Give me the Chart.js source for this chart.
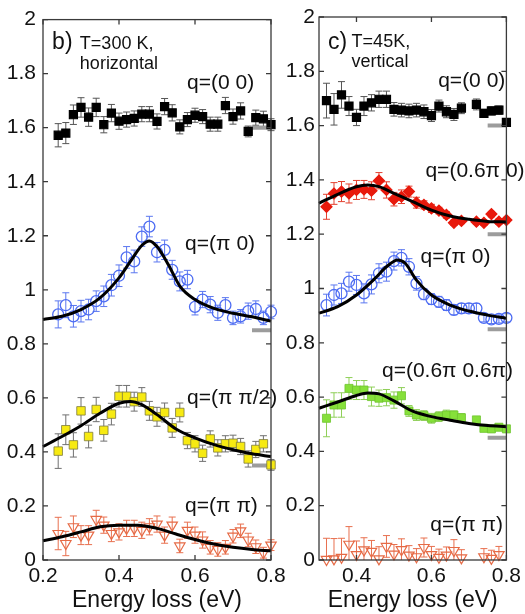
<!DOCTYPE html>
<html>
<head>
<meta charset="utf-8">
<script src="https://cdn.jsdelivr.net/npm/chart.js@4.4.0/dist/chart.umd.min.js"></script>
<style>
  html, body { margin: 0; padding: 0; background: #fff; }
  #wrap { position: relative; width: 525px; height: 614px; overflow: hidden; }
  #wrap canvas { position: absolute; top: 0; }
  #left { left: 0; }
  #right { left: 271px; }
</style>
</head>
<body>
<div id="wrap">
  <canvas id="left" width="300" height="614"></canvas>
  <canvas id="right" width="254" height="614"></canvas>
</div>
<script>
const FONT = "'Liberation Sans', Arial, Helvetica, sans-serif";

// tick values
const yTicks = [0, 0.2, 0.4, 0.6, 0.8, 1, 1.2, 1.4, 1.6, 1.8, 2];
const xTicksB = [0.2, 0.4, 0.6, 0.8];
const xTicksC = [0.4, 0.6, 0.8];

// ---- panel b)  T=300 K, horizontal
const energyB = [0.24, 0.26, 0.28, 0.30, 0.32, 0.34, 0.36, 0.38, 0.40, 0.42, 0.44, 0.46, 0.48, 0.50, 0.52,
  0.54, 0.56, 0.58, 0.60, 0.62, 0.64, 0.66, 0.68, 0.70, 0.72, 0.74, 0.76, 0.78, 0.80];

const bQ00 = [1.572, 1.580, 1.648, 1.675, 1.639, 1.675, 1.611, 1.654, 1.624, 1.630, 1.634, 1.650, 1.650, 1.623, 1.678,
  1.655, 1.603, 1.630, 1.646, 1.641, 1.613, 1.613, 1.682, 1.641, 1.662, 1.586, 1.637, 1.633, 1.611];
const bQ00Err = [0.043, 0.039, 0.036, 0.036, 0.034, 0.034, 0.03, 0.032, 0.03, 0.028, 0.028, 0.028, 0.028, 0.028, 0.03,
  0.03, 0.026, 0.026, 0.026, 0.026, 0.026, 0.026, 0.03, 0.028, 0.03, 0.02, 0.028, 0.028, 0.022];

const bPi0 = [0.909, 0.943, 0.902, 0.921, 0.927, 0.958, 0.976, 1.017, 1.052, 1.120, 1.105, 1.197, 1.234, 1.139, 1.148,
  1.074, 1.031, 1.038, 0.937, 0.964, 0.945, 0.915, 0.943, 0.896, 0.902, 0.921, 0.929, 0.896, 0.918];
const bPi0Err = [0.05, 0.046, 0.04, 0.04, 0.038, 0.038, 0.038, 0.04, 0.04, 0.04, 0.042, 0.036, 0.038, 0.036, 0.036,
  0.035, 0.035, 0.034, 0.03, 0.03, 0.03, 0.028, 0.028, 0.025, 0.025, 0.03, 0.03, 0.025, 0.025];
const bPi0FitX = [0.20, 0.25, 0.30, 0.35, 0.40, 0.43, 0.46, 0.48, 0.50, 0.53, 0.56, 0.60, 0.65, 0.70, 0.75, 0.80];
const bPi0Fit = [0.890, 0.902, 0.927, 0.970, 1.044, 1.105, 1.164, 1.181, 1.160, 1.093, 1.014, 0.964, 0.931, 0.913, 0.900, 0.884];

const bPiHalf = [0.403, 0.482, 0.426, 0.552, 0.457, 0.557, 0.480, 0.540, 0.606, 0.606, 0.586, 0.603, 0.552, 0.530, 0.546,
  0.489, 0.546, 0.442, 0.430, 0.395, 0.448, 0.415, 0.430, 0.432, 0.420, 0.374, 0.409, 0.430, 0.352];
const bPiHalfErr = [0.064, 0.055, 0.045, 0.049, 0.042, 0.045, 0.04, 0.04, 0.04, 0.04, 0.035, 0.035, 0.035, 0.035, 0.035,
  0.035, 0.035, 0.03, 0.03, 0.03, 0.03, 0.03, 0.03, 0.03, 0.03, 0.03, 0.03, 0.03, 0.02];
const bPiHalfFitX = [0.20, 0.25, 0.30, 0.35, 0.40, 0.43, 0.46, 0.50, 0.55, 0.60, 0.65, 0.70, 0.75, 0.80];
const bPiHalfFit = [0.420, 0.457, 0.497, 0.543, 0.580, 0.587, 0.575, 0.538, 0.485, 0.452, 0.427, 0.408, 0.393, 0.383];

const bPiPi = [0.098, 0.061, 0.123, 0.092, 0.092, 0.150, 0.129, 0.098, 0.104, 0.117, 0.117, 0.110, 0.123, 0.133, 0.092,
  0.129, 0.052, 0.110, 0.092, 0.074, 0.047, 0.039, 0.047, 0.088, 0.108, 0.074, 0.049, 0.027, 0.055];
const bPiPiErr = [0.06, 0.045, 0.04, 0.035, 0.035, 0.034, 0.03, 0.03, 0.03, 0.03, 0.03, 0.03, 0.03, 0.03, 0.03,
  0.03, 0.025, 0.03, 0.03, 0.03, 0.025, 0.025, 0.025, 0.025, 0.025, 0.025, 0.025, 0.02, 0.02];
const bPiPiFitX = [0.20, 0.25, 0.30, 0.35, 0.40, 0.45, 0.50, 0.55, 0.60, 0.65, 0.70, 0.75, 0.80];
const bPiPiFit = [0.071, 0.086, 0.104, 0.123, 0.129, 0.129, 0.117, 0.096, 0.076, 0.059, 0.047, 0.039, 0.034];

const bBaselines = [1.6, 0.85, 0.35];

// ---- panel c)  T=45K, vertical
const energyC = [0.32, 0.34, 0.36, 0.38, 0.40, 0.42, 0.44, 0.46, 0.48, 0.50, 0.52, 0.54, 0.56, 0.58, 0.60,
  0.62, 0.64, 0.66, 0.68, 0.72, 0.74, 0.76, 0.78, 0.80];
const energyCAll = [0.32, 0.34, 0.36, 0.38, 0.40, 0.42, 0.44, 0.46, 0.48, 0.50, 0.52, 0.54, 0.56, 0.58, 0.60,
  0.62, 0.64, 0.66, 0.68, 0.70, 0.72, 0.74, 0.76, 0.78, 0.80];
const energyCPiPi = [0.32, 0.34, 0.36, 0.38, 0.40, 0.42, 0.44, 0.46, 0.48, 0.50, 0.52, 0.54, 0.56, 0.58, 0.60,
  0.62, 0.64, 0.66, 0.68, 0.74, 0.76, 0.78];

const cQ00 = [1.692, 1.660, 1.713, 1.672, 1.630, 1.672, 1.684, 1.697, 1.697, 1.660, 1.657, 1.654, 1.657, 1.651, 1.637,
  1.672, 1.651, 1.641, 1.664, 1.678, 1.645, 1.654, 1.657, 1.612];
const cQ00Err = [0.064, 0.058, 0.049, 0.035, 0.03, 0.035, 0.03, 0.03, 0.03, 0.025, 0.025, 0.025, 0.025, 0.025, 0.022,
  0.022, 0.022, 0.022, 0.02, 0.02, 0.015, 0.015, 0.015, 0.012];

const c06Pi0 = [1.301, 1.350, 1.357, 1.350, 1.363, 1.365, 1.360, 1.397, 1.363, 1.329, 1.338, 1.357, 1.316, 1.308, 1.295,
  1.287, 1.271, 1.242, 1.249, 1.246, 1.242, 1.274, 1.246, 1.252];
const c06Pi0Err = [0.046, 0.04, 0.037, 0.035, 0.035, 0.033, 0.033, 0.03, 0.03, 0.025, 0.025, 0.02, 0.02, 0.015, 0.015,
  0.012, 0.012, 0.01, 0.01, 0.01, 0.01, 0.01, 0.01, 0.01];
const c06Pi0FitX = [0.30, 0.35, 0.40, 0.43, 0.46, 0.50, 0.55, 0.60, 0.65, 0.70, 0.75, 0.80];
const c06Pi0Fit = [1.314, 1.347, 1.375, 1.381, 1.375, 1.350, 1.320, 1.289, 1.267, 1.255, 1.247, 1.245];

const cPi0 = [0.939, 0.976, 0.982, 1.025, 1.013, 0.982, 1.015, 1.056, 1.062, 1.101, 1.113, 1.080, 1.019, 0.979, 0.961,
  0.951, 0.939, 0.921, 0.927, 0.927, 0.927, 0.892, 0.886, 0.888, 0.892];
const cPi0Err = [0.04, 0.037, 0.037, 0.035, 0.035, 0.035, 0.035, 0.035, 0.035, 0.033, 0.03, 0.03, 0.025, 0.02, 0.02,
  0.02, 0.02, 0.018, 0.018, 0.018, 0.018, 0.015, 0.015, 0.015, 0.015];
const cPi0FitX = [0.30, 0.35, 0.40, 0.45, 0.48, 0.51, 0.53, 0.56, 0.60, 0.65, 0.70, 0.75, 0.80];
const cPi0Fit = [0.909, 0.933, 0.976, 1.038, 1.080, 1.105, 1.093, 1.031, 0.976, 0.939, 0.917, 0.902, 0.890];

const c0606 = [0.522, 0.571, 0.571, 0.632, 0.626, 0.626, 0.602, 0.596, 0.598, 0.589, 0.605, 0.549, 0.534, 0.532, 0.522,
  0.528, 0.534, 0.534, 0.524, 0.516, 0.485, 0.483, 0.489, 0.483];
const c0606Err = [0.068, 0.045, 0.045, 0.04, 0.035, 0.035, 0.035, 0.03, 0.03, 0.03, 0.03, 0.02, 0.02, 0.018, 0.018,
  0.018, 0.018, 0.015, 0.015, 0.012, 0.012, 0.012, 0.012, 0.012];
const c0606FitX = [0.30, 0.35, 0.40, 0.43, 0.46, 0.50, 0.55, 0.60, 0.65, 0.70, 0.75, 0.80];
const c0606Fit = [0.559, 0.582, 0.606, 0.615, 0.612, 0.586, 0.548, 0.528, 0.515, 0.503, 0.495, 0.491];

const cPiPi = [0.002, 0.004, 0.010, 0.058, 0.020, 0.037, 0.032, 0.004, 0.050, 0.022, 0.038, 0.018, 0.012, 0.046, 0.020,
  0.010, 0.018, 0.035, 0.008, 0.012, 0.006, 0.020];
const cPiPiErr = [0.078, 0.075, 0.07, 0.065, 0.05, 0.045, 0.04, 0.045, 0.04, 0.035, 0.04, 0.035, 0.03, 0.035, 0.03,
  0.03, 0.03, 0.04, 0.03, 0.03, 0.03, 0.03];

const cBaselines = [1.6, 1.2, 0.85, 0.45];
const baselineX = [0.75, 0.80];

// ---- helpers
function pts(xs, ys) {
  return xs.map((x, i) => ({ x, y: ys[i] }));
}

function fmt(v) {
  return String(Number(v.toFixed(1)));
}

function markers(xs, ys, err, style) {
  return Object.assign({
    type: 'scatter',
    data: pts(xs, ys),
    errors: err,
    showLine: false,
    clip: false,
    order: 2,
    pointBorderWidth: 1.2
  }, style);
}

function fitLine(xs, ys) {
  return {
    type: 'line',
    data: pts(xs, ys),
    borderColor: '#000',
    borderWidth: 3,
    pointRadius: 0,
    cubicInterpolationMode: 'monotone',
    fill: false,
    clip: false,
    order: 1
  };
}

function baseBar(y) {
  return {
    type: 'line',
    data: pts(baselineX, [y, y]),
    borderColor: '#9c9c9c',
    borderWidth: 4,
    pointRadius: 0,
    order: 3
  };
}

const black = { pointStyle: 'rect', pointRadius: 5.7, pointBackgroundColor: '#000', pointBorderColor: '#000', errColor: '#555' };
const blue = { pointStyle: 'circle', pointRadius: 5.5, pointBackgroundColor: 'rgba(0,0,0,0)', pointBorderColor: '#4d6cf3', pointBorderWidth: 1.3, errColor: '#5b77f0' };
const yellow = { pointStyle: 'rect', pointRadius: 6, pointBackgroundColor: '#f7ea12', pointBorderColor: '#7c7a40', pointBorderWidth: 0.8, errColor: '#707070' };
const orange = { pointStyle: 'triangle', pointRotation: 180, pointRadius: 6, pointBackgroundColor: 'rgba(0,0,0,0)', pointBorderColor: '#e66a45', errColor: '#e8704f' };
const red = { pointStyle: 'rectRot', pointRadius: 5.5, pointBackgroundColor: '#e8190c', pointBorderColor: '#e8190c', errColor: '#e3402f' };
const green = { pointStyle: 'rect', pointRadius: 5.7, pointBackgroundColor: '#86e03a', pointBorderColor: '#6ec42e', pointBorderWidth: 0.8, errColor: '#8fcf58' };

// error bars drawn under the markers
const errorBars = {
  id: 'errorBars',
  beforeDatasetsDraw(chart) {
    const { ctx, chartArea, scales: { x, y } } = chart;
    ctx.save();
    ctx.beginPath();
    ctx.rect(0, chartArea.top, chart.width, chartArea.bottom - chartArea.top);
    ctx.clip();
    chart.data.datasets.forEach(ds => {
      if (!ds.errors) return;
      ctx.strokeStyle = ds.errColor;
      ctx.lineWidth = 1;
      ds.data.forEach((p, i) => {
        const px = x.getPixelForValue(p.x);
        const top = y.getPixelForValue(p.y + ds.errors[i]);
        const bot = y.getPixelForValue(p.y - ds.errors[i]);
        ctx.beginPath();
        ctx.moveTo(px, top); ctx.lineTo(px, bot);
        ctx.moveTo(px - 3.5, top); ctx.lineTo(px + 3.5, top);
        ctx.moveTo(px - 3.5, bot); ctx.lineTo(px + 3.5, bot);
        ctx.stroke();
      });
    });
    ctx.restore();
  }
};

// box round the plot with inward ticks on all four sides
const frame = {
  id: 'frame',
  afterDatasetsDraw(chart) {
    const { ctx, chartArea: a, scales: { x, y } } = chart;
    ctx.save();
    ctx.strokeStyle = '#3a3a3a';
    ctx.lineWidth = 1.3;
    ctx.strokeRect(a.left, a.top, a.right - a.left, a.bottom - a.top);
    ctx.beginPath();
    x.ticks.forEach(t => {
      const px = x.getPixelForValue(t.value);
      ctx.moveTo(px, a.top); ctx.lineTo(px, a.top + 5);
      ctx.moveTo(px, a.bottom); ctx.lineTo(px, a.bottom - 5);
    });
    y.ticks.forEach(t => {
      const py = y.getPixelForValue(t.value);
      ctx.moveTo(a.left, py); ctx.lineTo(a.left + 5, py);
      ctx.moveTo(a.right, py); ctx.lineTo(a.right - 5, py);
    });
    ctx.stroke();
    ctx.restore();
  }
};

// panel labels, placed in data units
const panelText = {
  id: 'panelText',
  afterDatasetsDraw(chart, args, opts) {
    const { ctx, scales: { x, y } } = chart;
    ctx.save();
    ctx.fillStyle = '#111';
    ctx.textAlign = 'left';
    ctx.textBaseline = 'middle';
    opts.items.forEach(t => {
      ctx.font = t.size + 'px ' + FONT;
      ctx.fillText(t.text, x.getPixelForValue(t.x), y.getPixelForValue(t.y));
    });
    ctx.restore();
  }
};

function makeChart(id, xMin, xTicks, yWidth, yPad, padRight, datasets, texts) {
  return new Chart(document.getElementById(id), {
    type: 'scatter',
    data: { datasets },
    options: {
      responsive: false,
      animation: false,
      events: [],
      layout: { padding: { top: 17, right: padRight, left: 0, bottom: 0 } },
      scales: {
        x: {
          type: 'linear',
          min: xMin,
          max: 0.8,
          afterBuildTicks: s => { s.ticks = xTicks.map(v => ({ value: v })); },
          afterFit: s => { s.height = 54; },
          grid: { display: false, drawTicks: false },
          border: { display: false },
          ticks: { padding: 4, color: '#111', font: { family: FONT, size: 21 }, callback: v => fmt(v) },
          title: { display: true, text: 'Energy loss (eV)', color: '#111', font: { family: FONT, size: 23 }, padding: 0 }
        },
        y: {
          type: 'linear',
          min: 0,
          max: 2,
          afterBuildTicks: s => { s.ticks = yTicks.map(v => ({ value: v })); },
          afterFit: s => { s.width = yWidth; },
          grid: { display: false, drawTicks: false },
          border: { display: false },
          ticks: { padding: yPad, color: '#111', font: { family: FONT, size: 21 }, callback: v => fmt(v) }
        }
      },
      plugins: {
        legend: { display: false },
        tooltip: { enabled: false },
        panelText: { items: texts }
      }
    },
    plugins: [errorBars, frame, panelText]
  });
}

makeChart('left', 0.2, xTicksB, 43, 7, 29, [
  ...bBaselines.map(baseBar),
  fitLine(bPi0FitX, bPi0Fit),
  fitLine(bPiHalfFitX, bPiHalfFit),
  fitLine(bPiPiFitX, bPiPiFit),
  markers(energyB, bQ00, bQ00Err, black),
  markers(energyB, bPi0, bPi0Err, blue),
  markers(energyB, bPiHalf, bPiHalfErr, yellow),
  markers(energyB, bPiPi, bPiPiErr, orange)
], [
  { text: 'b)', x: 0.224, y: 1.915, size: 23 },
  { text: 'T=300 K,', x: 0.297, y: 1.908, size: 18 },
  { text: 'horizontal', x: 0.297, y: 1.834, size: 18 },
  { text: 'q=(0 0)', x: 0.579, y: 1.764, size: 21 },
  { text: 'q=(π 0)', x: 0.574, y: 1.168, size: 21 },
  { text: 'q=(π π/2)', x: 0.579, y: 0.597, size: 21 },
  { text: 'q=(π π)', x: 0.574, y: 0.199, size: 21 }
]);

makeChart('right', 0.3, xTicksC, 48, 4, 17, [
  ...cBaselines.map(baseBar),
  fitLine(c06Pi0FitX, c06Pi0Fit),
  fitLine(cPi0FitX, cPi0Fit),
  fitLine(c0606FitX, c0606Fit),
  markers(energyC, cQ00, cQ00Err, black),
  markers(energyC, c06Pi0, c06Pi0Err, red),
  markers(energyCAll, cPi0, cPi0Err, blue),
  markers(energyC, c0606, c0606Err, green),
  markers(energyCPiPi, cPiPi, cPiPiErr, orange)
], [
  { text: 'c)', x: 0.324, y: 1.904, size: 23 },
  { text: 'T=45K,', x: 0.387, y: 1.908, size: 18 },
  { text: 'vertical', x: 0.387, y: 1.834, size: 18 },
  { text: 'q=(0 0)', x: 0.618, y: 1.764, size: 21 },
  { text: 'q=(0.6π 0)', x: 0.584, y: 1.433, size: 21 },
  { text: 'q=(π 0)', x: 0.571, y: 1.116, size: 21 },
  { text: 'q=(0.6π 0.6π)', x: 0.468, y: 0.696, size: 21 },
  { text: 'q=(π π)', x: 0.597, y: 0.129, size: 21 }
]);
</script>
</body>
</html>
